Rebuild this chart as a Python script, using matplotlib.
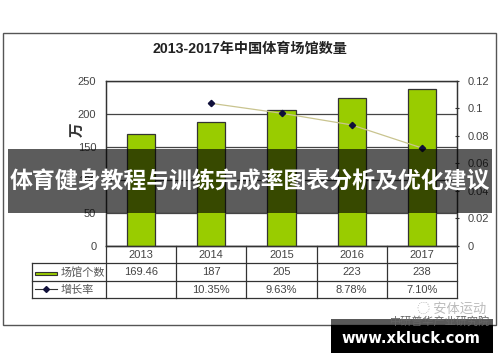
import matplotlib
matplotlib.use("Agg")
import matplotlib.pyplot as plt
import matplotlib.transforms as mtransforms
from matplotlib.patches import Rectangle
from matplotlib.lines import Line2D
from matplotlib.ticker import FuncFormatter

plt.rcParams['font.family'] = ['Liberation Sans', 'Noto Sans CJK SC', 'DejaVu Sans']

years = ["2013", "2014", "2015", "2016", "2017"]
venues = [169.46, 187, 205, 223, 238]
venue_labels = ["169.46", "187", "205", "223", "238"]
growth = [None, 0.1035, 0.0963, 0.0878, 0.0710]
growth_labels = ["", "10.35%", "9.63%", "8.78%", "7.10%"]
left_ticks = [0, 50, 100, 150, 200, 250]
right_ticks = [0, 0.02, 0.04, 0.06, 0.08, 0.10, 0.12]

title = "2013-2017年中国体育场馆数量"
ylabel = "万"
legend_bar = "场馆个数"
legend_line = "增长率"
banner = "体育健身教程与训练完成率图表分析及优化建议"
site = "www.xkluck.com"
wm1 = "安体运动"
wm2 = "中研普华产业研究院"

W, H = 500, 362
fig = plt.figure(figsize=(5, 3.62), dpi=100)
fig.patch.set_facecolor("white")

def fx(x): return x / W
def fy(y): return 1 - y / H

L, R, T, B = 106, 457, 80.7, 245.5
ax = fig.add_axes([fx(L), fy(B), fx(R) - fx(L), fy(T) - fy(B)])
ax.set_xlim(-0.5, 4.5)
ax.set_ylim(0, 250)
x = list(range(len(years)))
ax.bar(x, venues, width=0.40, color="#99cc00", edgecolor="#333333", linewidth=0.9, zorder=3)
ax.set_yticks(left_ticks)
ax.yaxis.grid(True, color="#444444", linewidth=0.9)
ax.set_axisbelow(True)
ax.set_xticks([])
ax.tick_params(axis='y', length=0, pad=7, labelsize=8, labelcolor="#444444")
for s in ax.spines.values():
    s.set_color("#333333"); s.set_linewidth(0.9)

ax2 = ax.twinx()
ax2.set_ylim(0, 0.12)
gx = [i for i, g in zip(x, growth) if g is not None]
gy = [g for g in growth if g is not None]
ax2.plot(gx, gy, color="#c9c48f", linewidth=0.9, zorder=4)
ax2.plot(gx, gy, linestyle="none", marker="D", markersize=3.2, color="#10103a", zorder=5)
ax2.set_yticks(right_ticks)
ax2.yaxis.set_major_formatter(FuncFormatter(lambda v, p: "%g" % round(v, 2)))
ax2.tick_params(axis='y', length=3, direction='inout', pad=6, labelsize=8, labelcolor="#444444", color="#333333")
for s in ax2.spines.values():
    s.set_color("#333333"); s.set_linewidth(0.9)

# overlay in pixel coordinates
ov = fig.add_axes([0, 0, 1, 1], zorder=10)
ov.set_xlim(0, W); ov.set_ylim(H, 0); ov.axis("off"); ov.patch.set_alpha(0)

# outer frame
ov.add_patch(Rectangle((3.3, 33.3), 492.4, 291.7, fill=False, edgecolor="#555555", linewidth=1.0))
ov.text(250, 48.5, title, ha="center", va="center", fontsize=10.2, fontweight="bold",
        color="#222222", family=['Liberation Sans', 'Noto Sans CJK SC'])
ov.text(77, 130, ylabel, ha="center", va="center", rotation=90, fontsize=10.5, fontweight="bold",
        color="#333333", family=['Noto Sans CJK SC'])

# table
bt = mtransforms.blended_transform_factory(ax.transData, ov.transData)
rows_y = [B, 263, 280.7, 297.5]
lc = "#333333"
ov.add_line(Line2D([4.5, 4.5], [rows_y[0], rows_y[3]], transform=bt, color=lc, lw=0.9))
for i in range(len(years)):
    ov.add_line(Line2D([i - 0.5, i - 0.5], [rows_y[0], rows_y[3]], transform=bt, color=lc, lw=0.9))
ov.add_line(Line2D([32, 32], [rows_y[1], rows_y[3]], color=lc, lw=0.9))
for yy in rows_y[1:]:
    ov.add_line(Line2D([32, R], [yy, yy], color=lc, lw=0.9))
ov.add_line(Line2D([L, R], [rows_y[0], rows_y[0]], color=lc, lw=0.9))
for i in range(len(years)):
    ov.text(i, (rows_y[0] + rows_y[1]) / 2 + 0.5, years[i], transform=bt, ha="center", va="center",
            fontsize=8, color="#444444")
    ov.text(i, (rows_y[1] + rows_y[2]) / 2 + 0.5, venue_labels[i], transform=bt, ha="center", va="center",
            fontsize=8, color="#444444")
    ov.text(i, (rows_y[2] + rows_y[3]) / 2 + 0.5, growth_labels[i], transform=bt, ha="center", va="center",
            fontsize=8, color="#444444")
ov.add_patch(Rectangle((35, 271.5), 21.5, 3.5, facecolor="#99cc00", edgecolor="#333333", linewidth=0.8))
ov.text(61, 272.5, legend_bar, ha="left", va="center", fontsize=8, color="#555555", family=['Noto Sans CJK SC'])
ov.add_line(Line2D([35, 57], [289, 289], color="#333333", lw=0.8))
ov.plot([46], [289], marker="D", markersize=3, color="#10103a")
ov.text(61, 289.5, legend_line, ha="left", va="center", fontsize=8, color="#555555", family=['Noto Sans CJK SC'])

# watermark
ov.text(452, 309.5, "◌ " + wm1, ha="center", va="center", fontsize=9.5, color="#bbbbbb",
        family=['Noto Sans CJK SC', 'DejaVu Sans'])
ov.text(440, 321, wm2, ha="center", va="center", fontsize=8, color="#666666", family=['Noto Sans CJK SC'])

# banner
ov.add_patch(Rectangle((8.3, 149), 483.7, 64.3, facecolor="black", alpha=0.64, linewidth=0))
ov.text(250, 182, banner, ha="center", va="center", fontsize=16.5, fontweight="bold",
        color="white", family=['Noto Sans CJK SC'])

# bottom site box
ov.add_patch(Rectangle((331, 319), 162, 5.5, facecolor="black", alpha=0.65, linewidth=0))
ov.add_patch(Rectangle((331, 324.5), 162, 28.5, facecolor="black", linewidth=0))
ov.text(411, 338.5, site, ha="center", va="center", fontsize=10.6, fontweight="bold",
        color="white", family=['DejaVu Sans'])

fig.savefig("out.png", dpi=100)
